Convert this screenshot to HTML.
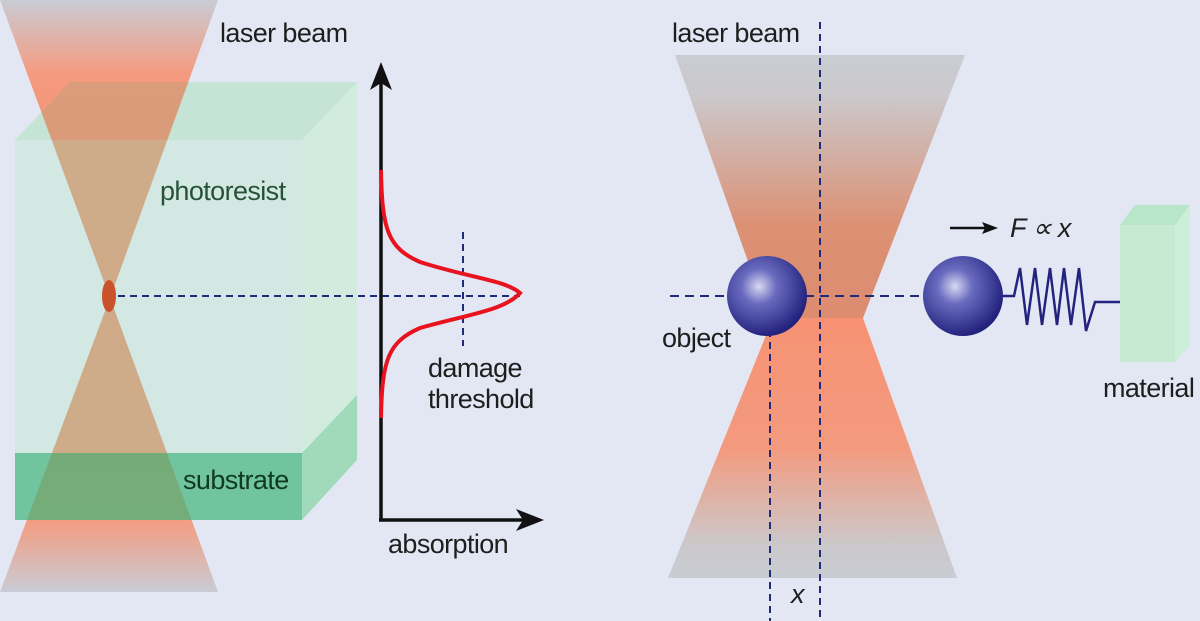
<!DOCTYPE html>
<html><head><meta charset="utf-8"><style>
html,body{margin:0;padding:0;background:#e3e7f4;}
svg{display:block}
text{font-family:"Liberation Sans",sans-serif;font-size:27px;fill:#1e1e1e;letter-spacing:-0.6px}
</style></head><body>
<svg width="1200" height="621" viewBox="0 0 1200 621">
<defs>
<linearGradient id="lt" x1="0" y1="0" x2="0" y2="298" gradientUnits="userSpaceOnUse">
<stop offset="0" stop-color="#c9ccd6"/><stop offset="0.25" stop-color="#f59a7e"/><stop offset="1" stop-color="#ee8466"/></linearGradient>
<linearGradient id="lb" x1="0" y1="298" x2="0" y2="592" gradientUnits="userSpaceOnUse">
<stop offset="0" stop-color="#ee8466"/><stop offset="0.75" stop-color="#f59a7e"/><stop offset="1" stop-color="#c9ccd6"/></linearGradient>
<linearGradient id="rt" x1="0" y1="55" x2="0" y2="318" gradientUnits="userSpaceOnUse">
<stop offset="0" stop-color="#c9ccd2"/><stop offset="0.15" stop-color="#cbc9cc"/><stop offset="0.65" stop-color="#dc9074"/><stop offset="1" stop-color="#dd8c70"/></linearGradient>
<linearGradient id="rb" x1="0" y1="318" x2="0" y2="578" gradientUnits="userSpaceOnUse">
<stop offset="0" stop-color="#f79274"/><stop offset="0.5" stop-color="#f39a7e"/><stop offset="0.88" stop-color="#cbc9cc"/><stop offset="1" stop-color="#c9ccd2"/></linearGradient>
<radialGradient id="sp" cx="0.4" cy="0.38" r="0.62">
<stop offset="0" stop-color="#d8d9f0"/><stop offset="0.35" stop-color="#6a6cc0"/><stop offset="1" stop-color="#23237e"/></radialGradient>
<clipPath id="front"><rect x="15" y="140" width="287" height="313"/></clipPath>
<clipPath id="topf"><polygon points="15,140 70,82 357,82 302,140"/></clipPath>
</defs>

<!-- left beam -->
<polygon points="0,0 218,0 110,298" fill="url(#lt)"/>
<polygon points="110,298 218,592 0,592" fill="url(#lb)"/>

<!-- box -->
<polygon points="15,140 70,82 357,82 302,140" fill="#b0e2c2" opacity="0.6"/>
<polygon points="302,140 357,82 357,460 302,520" fill="#c8eed4" opacity="0.65"/>
<polygon points="302,453 357,395 357,460 302,520" fill="#8cd3a9" opacity="0.7"/>
<rect x="15" y="140" width="287" height="313" fill="#c4ead0" opacity="0.5"/>
<rect x="15" y="453" width="287" height="67" fill="#3fb579" opacity="0.7"/>
<g clip-path="url(#front)">
<polygon points="0,0 218,0 110,298 218,592 0,592 110,298" fill="#c9a682" opacity="0.75"/>
</g>
<g clip-path="url(#topf)">
<polygon points="0,0 218,0 110,298" fill="#e08a6a" opacity="0.7"/>
</g>

<ellipse cx="109" cy="296" rx="7" ry="16" fill="#c9522c"/>
<line x1="118" y1="296" x2="520" y2="296" stroke="#1e2a7a" stroke-width="2" stroke-dasharray="7,5"/>
<line x1="463" y1="232" x2="463" y2="346" stroke="#1e2a7a" stroke-width="2" stroke-dasharray="7,5"/>

<!-- axes -->
<line x1="381" y1="520" x2="381" y2="80" stroke="#111" stroke-width="3.5"/>
<polygon points="381,62 370,90 381,83 392,90" fill="#111"/>
<line x1="379" y1="520" x2="528" y2="520" stroke="#111" stroke-width="3.5"/>
<polygon points="544,520 516,509 523,520 516,531" fill="#111"/>
<path d="M381,170 C382,230 388,248 420,262 C470,278 505,280 520,293 C505,310 470,314 420,328 C388,342 382,360 381,418" fill="none" stroke="#e8131f" stroke-width="4"/>

<text x="220" y="42">laser beam</text>
<text x="160" y="200" style="fill:#27523a">photoresist</text>
<text x="183" y="489" style="fill:#103a22">substrate</text>
<text x="428" y="377">damage</text>
<text x="428" y="408">threshold</text>
<text x="388" y="553">absorption</text>

<!-- right beam -->
<polygon points="675,55 965,55 863,318 768,318" fill="url(#rt)"/>
<polygon points="773,318 863,318 957,578 668,578" fill="url(#rb)"/>
<line x1="820" y1="22" x2="820" y2="621" stroke="#1e2a7a" stroke-width="2" stroke-dasharray="7,5"/>
<line x1="770" y1="330" x2="770" y2="621" stroke="#1e2a7a" stroke-width="2" stroke-dasharray="7,5"/>
<line x1="670" y1="296" x2="925" y2="296" stroke="#1e2a7a" stroke-width="2" stroke-dasharray="9,6"/>
<circle cx="767" cy="296" r="40" fill="url(#sp)"/>
<circle cx="963" cy="296" r="40" fill="url(#sp)"/>
<polyline points="1003,296 1014,296 1020,268 1027,325 1035,268 1042,325 1050,268 1057,325 1064,268 1071,325 1079,268 1086,331 1095,302 1120,302" fill="none" stroke="#23237e" stroke-width="2.5"/>
<polygon points="1120,225 1135,205 1190,205 1175,225" fill="#b8e6c8"/>
<polygon points="1175,225 1190,205 1190,345 1175,362" fill="#cdeed8"/>
<rect x="1120" y="225" width="55" height="137" fill="#c6ead2"/>
<line x1="950" y1="228" x2="985" y2="228" stroke="#111" stroke-width="2.5"/>
<polygon points="998,228 982,222 985,228 982,234" fill="#111"/>
<text x="1010" y="237" style="font-style:italic">F ∝ x</text>
<text x="672" y="42">laser beam</text>
<text x="662" y="347">object</text>
<text x="1103" y="397">material</text>
<text x="791" y="603" style="font-style:italic">x</text>
</svg>
</body></html>
